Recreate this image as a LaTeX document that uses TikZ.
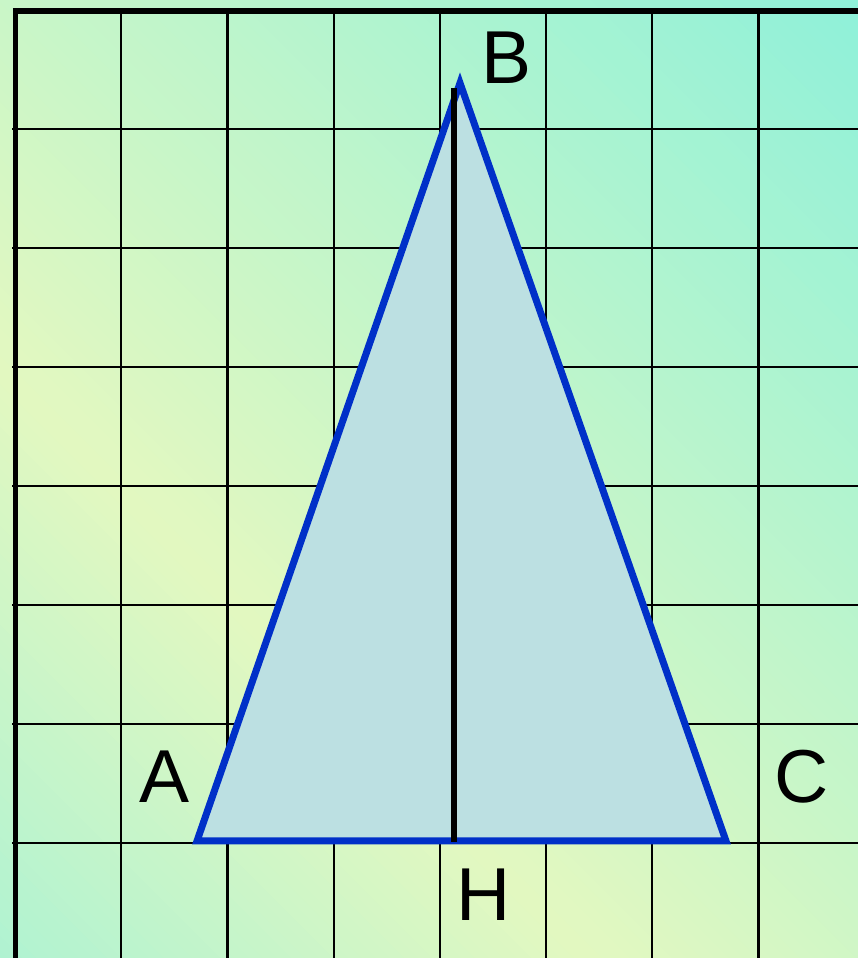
\documentclass[tikz,border=0pt]{standalone}
\usepackage{fontspec}
\setmainfont{Liberation Sans}
\definecolor{bgyel}{HTML}{E3F8C0}
\definecolor{bgtr}{HTML}{86F0DC}
\definecolor{bgbl}{HTML}{AEF2D2}
\definecolor{trifill}{HTML}{BCE0E2}
\definecolor{triedge}{HTML}{0030C8}
\begin{document}
\begin{tikzpicture}[x=1pt,y=1pt,
  gridthin/.style={black,line width=2.2pt},
  gridthick/.style={black,line width=5.5pt},
  triangle/.style={draw=triedge,fill=trifill,line width=7pt,line join=miter},
  altitude/.style={black,line width=6.5pt},
  vlabel/.style={font=\fontsize{75}{80}\selectfont,inner sep=0pt,anchor=center}]
\useasboundingbox (0,0) rectangle (858,958);
% background
\begin{scope}
  \clip (0,0) rectangle (858,958);
  \begin{scope}[shift={(50,538)},rotate=45]
    \foreach \d in {-440,-430,...,-10} {
      \pgfmathsetmacro\pct{min(100,max(0,-(\d+5)/4.3))}
      \fill[bgbl!\pct!bgyel] (\d,-1500) rectangle ({\d+10.6},1500);
    }
    \foreach \d in {0,10,...,960} {
      \pgfmathsetmacro\pct{min(100,max(0,(\d+5)/9.6))}
      \fill[bgtr!\pct!bgyel] (\d,-1500) rectangle ({\d+10.6},1500);
    }
  \end{scope}
\end{scope}
% grid
\foreach \k in {1,...,7} {
  \draw[gridthin] ({15+106.2*\k},947) -- ({15+106.2*\k},0);
}
\foreach \k in {1,...,7} {
  \draw[gridthin] (12,{948-119*\k}) -- (858,{948-119*\k});
}
\draw[gridthick] (15.5,0) -- (15.5,950);
\draw[gridthick] (12.8,947) -- (858,947);
% triangle
\coordinate (A) at (197,117);
\coordinate (B) at (460,875);
\coordinate (C) at (726,117);
\coordinate (Htop) at (454,870);
\coordinate (H) at (454,116);
\draw[triangle] (A) -- (B) -- (C) -- cycle;
\draw[altitude] (Htop) -- (H);
% labels
\node[vlabel] (lA) at (165,181) {A};
\node[vlabel] (lB) at (507,900) {B};
\node[vlabel] (lC) at (802,181) {C};
\node[vlabel] (lH) at (484,63) {H};
\end{tikzpicture}
\end{document}
